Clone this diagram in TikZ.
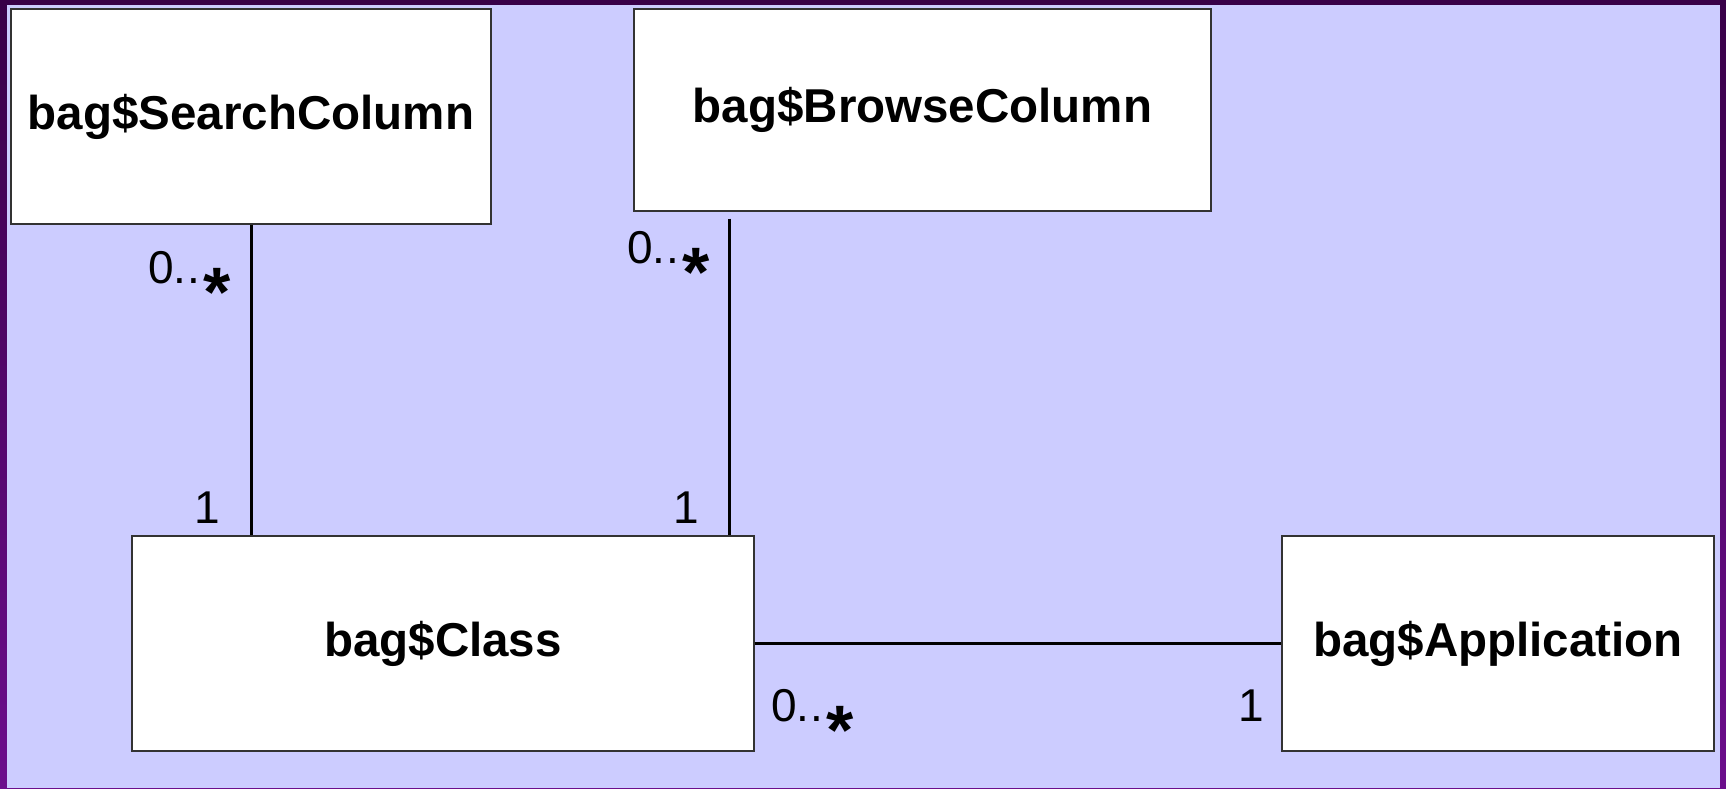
\documentclass[tikz,border=0pt]{standalone}
\usepackage{fontspec}
\setmainfont{Liberation Sans}
\begin{document}
\begin{tikzpicture}[x=1pt,y=-1pt,
  classbox/.style={draw=black!80, line width=1.3pt, fill=white,
    inner sep=0pt, font=\fontsize{47.5}{50}\selectfont\bfseries},
  assoc/.style={draw=black, line width=3pt},
  mult/.style={inner sep=0pt, anchor=base west,
    font=\fontsize{46}{48}\selectfont}]
\definecolor{lav}{HTML}{CCCCFF}
\definecolor{frametop}{HTML}{380048}
\definecolor{framebot}{HTML}{6C0E8C}
\newcommand{\many}{0.\kern1pt.\kern3pt\raisebox{-33pt}{\fontsize{70}{70}\selectfont\bfseries *}}

% frame and canvas
\useasboundingbox (0,0) rectangle (1726,788);
\shade[top color=frametop, bottom color=framebot] (0,0) rectangle (1726,788);
\fill[lav] (7,5) rectangle (1720,788);

% classes
\node[classbox, minimum width=480pt, minimum height=215pt] (search) at (251,116.5) {bag\$SearchColumn};
\node[classbox, minimum width=577pt, minimum height=202pt] (browse) at (922.5,110) {bag\$BrowseColumn};
\node[classbox, minimum width=622pt, minimum height=215pt] (class) at (443,643.5) {bag\$Class};
\node[classbox, minimum width=432pt, minimum height=215pt] (app) at (1498,643.5) {bag\$Application};

% associations
\draw[assoc] (search.south) -- (search.south |- class.north);
\draw[assoc] ([shift={(96,7)}]browse.south west) -- ([xshift=96pt]browse.south west |- class.north);
\draw[assoc] (class.east) -- (app.west);

% multiplicities
\node[mult] (m1) at (148,283) {\many};
\node[mult] (m2) at (194,523) {1};
\node[mult] (m3) at (627,263) {\many};
\node[mult] (m4) at (673,523) {1};
\node[mult] (m5) at (771,721) {\many};
\node[mult] (m6) at (1238,721) {1};
\end{tikzpicture}
\end{document}
